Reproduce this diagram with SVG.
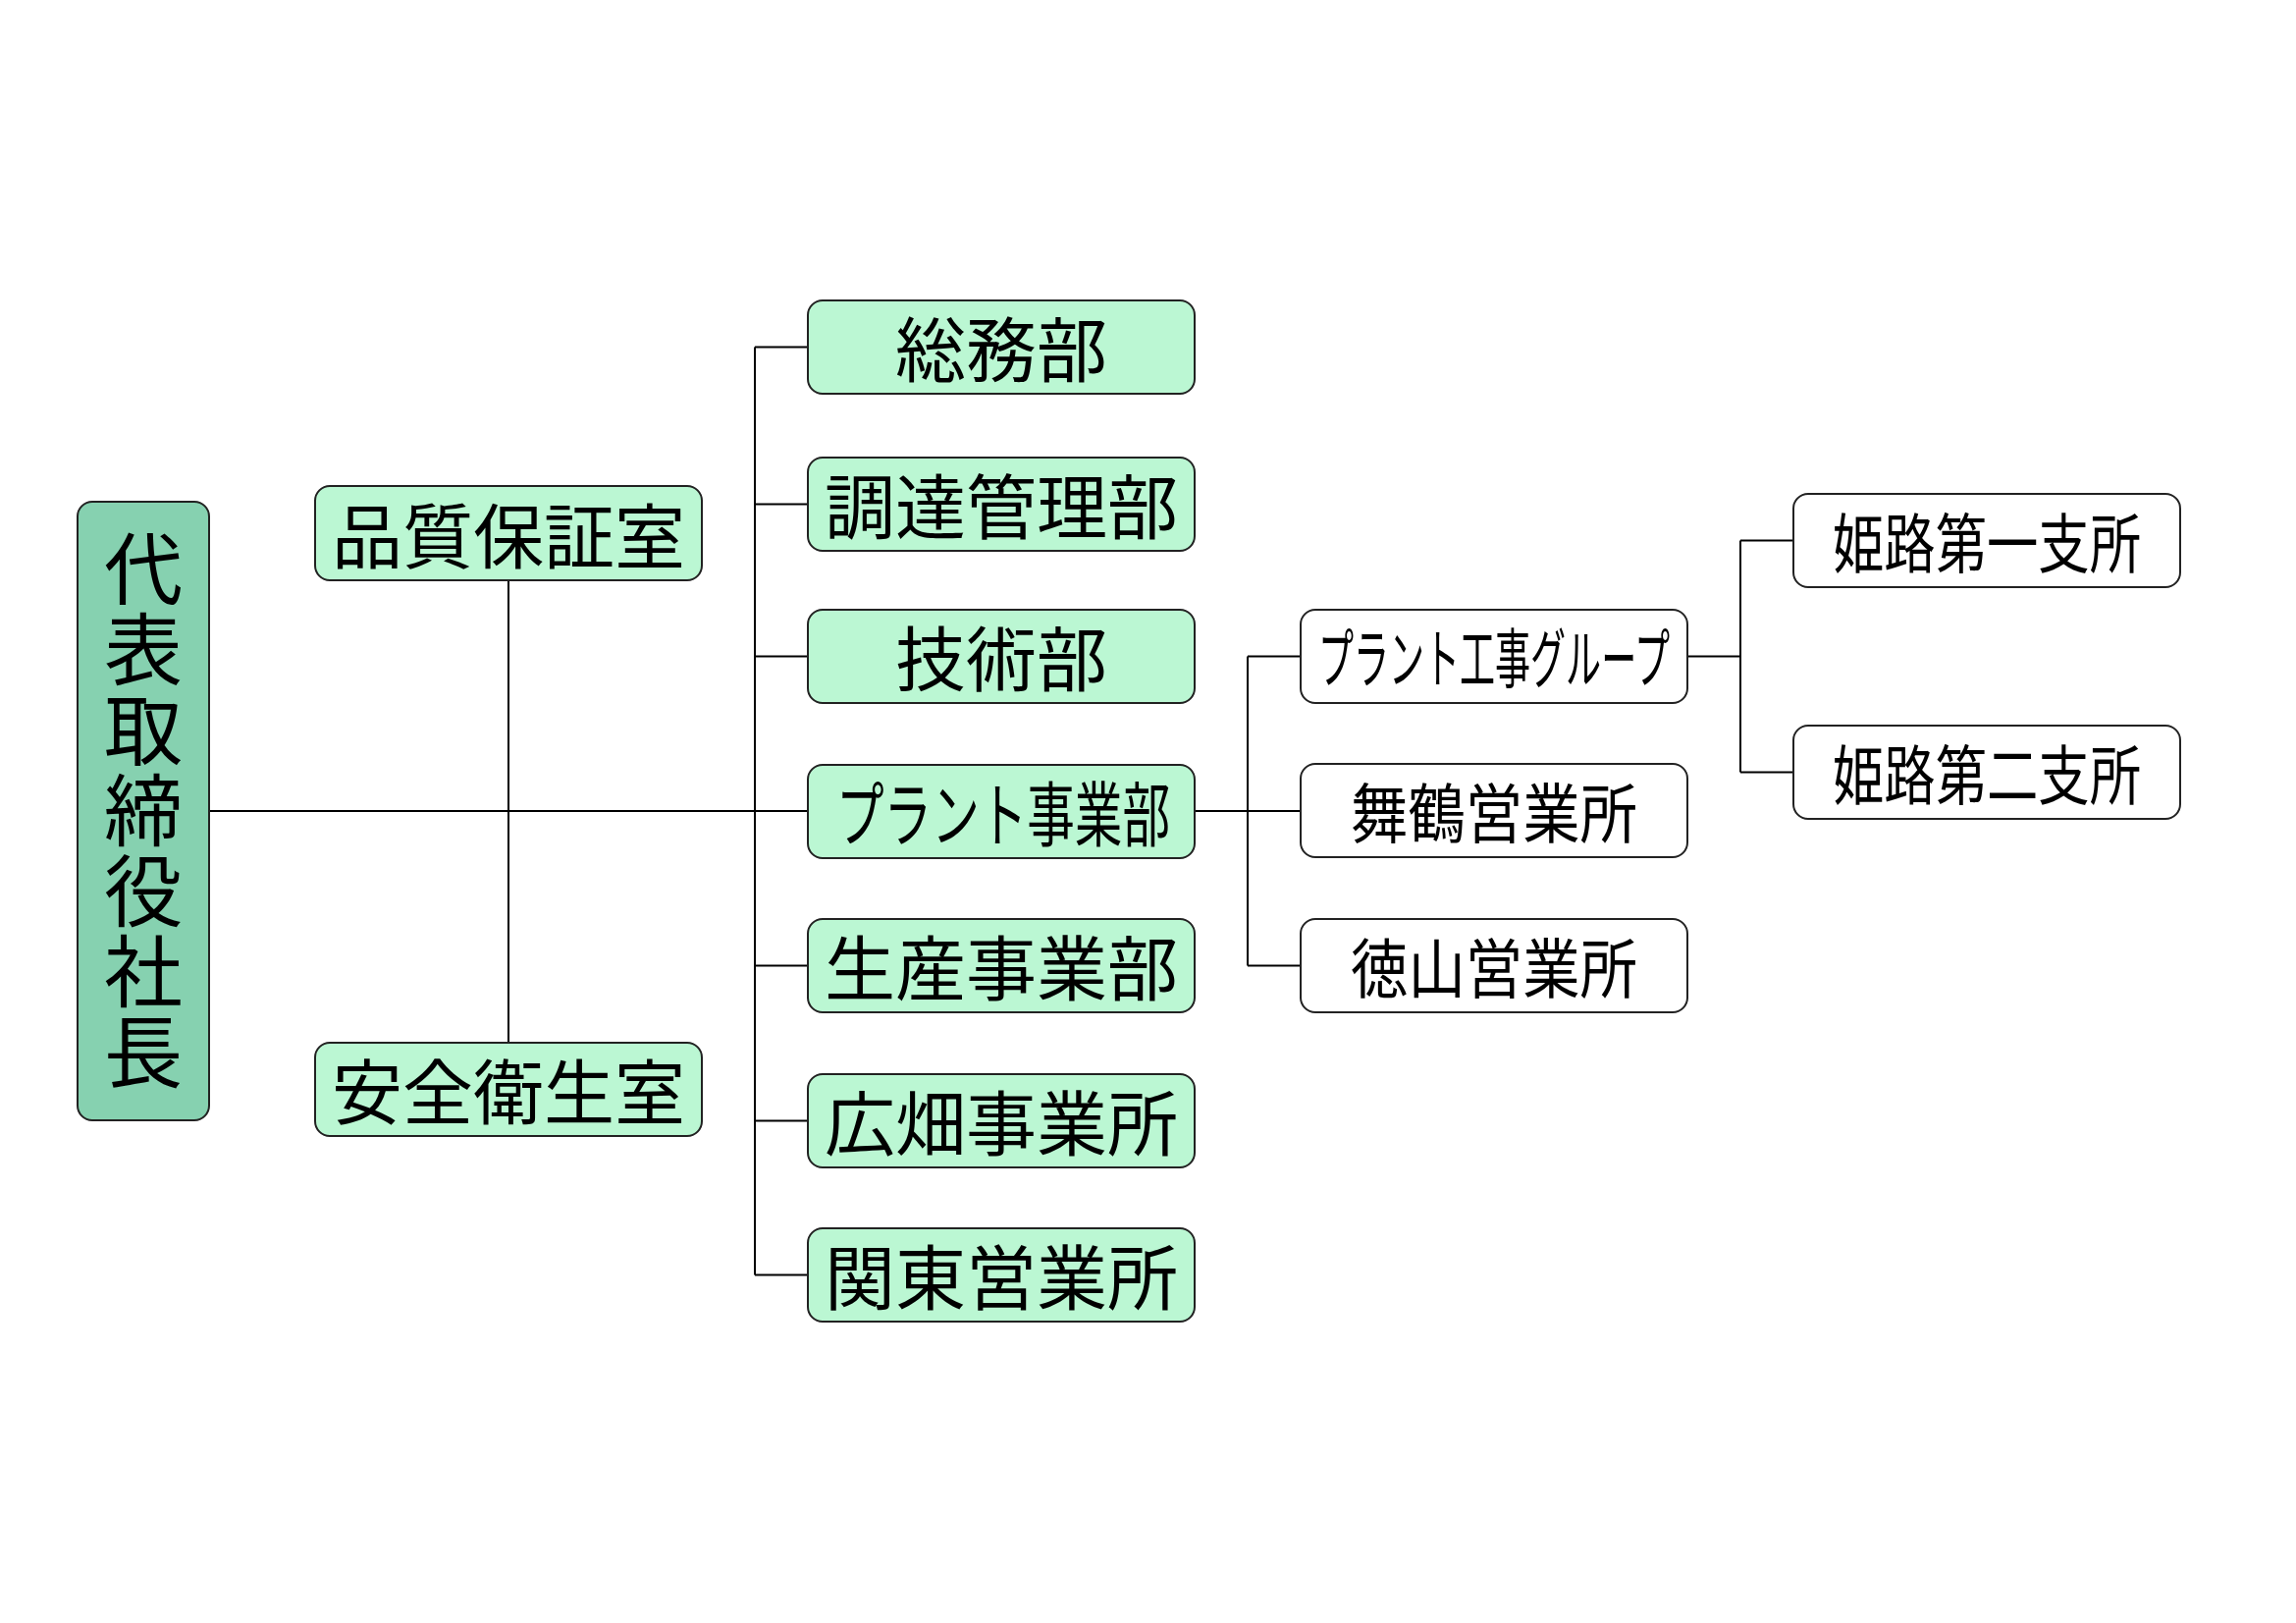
<svg xmlns="http://www.w3.org/2000/svg" width="2339" height="1653" viewBox="0 0 2339 1653">
<style>
.box{stroke:#222;stroke-width:2}
.g{fill:#BBF7D3}
.p{fill:#86D1B0}
.w{fill:#FFFFFF}
.t{font-family:"Noto Sans CJK JP","Noto Sans CJK SC",sans-serif;font-size:72px;fill:#000;text-anchor:middle;dominant-baseline:central}
.s{font-size:66px}
.v{font-size:80px;writing-mode:vertical-rl;letter-spacing:2px}
.c{fill:none;stroke:#000;stroke-width:2}
</style>
<rect width="2339" height="1653" fill="#FFFFFF"/>
<g id="connectors" class="c">
<path d="M213 826H823"/>
<path d="M518 591V1062"/>
<path d="M769 353.5V1298.5M769 353.5H823M769 513.5H823M769 668.5H823M769 983.5H823M769 1141.5H823M769 1298.5H823"/>
<path d="M1217 826H1325"/>
<path d="M1271 668.5V983.5M1271 668.5H1325M1271 983.5H1325"/>
<path d="M1719 668.5H1773M1773 550.5V786.5M1773 550.5H1827M1773 786.5H1827"/>
</g>
<g id="n-president"><rect class="box p" x="79" y="511" width="134" height="630" rx="15"/>
<text class="t v" x="146" y="826">代表取締役社長</text></g>
<g id="n-qa"><rect class="box g" x="321" y="495" width="394" height="96" rx="15"/><text class="t" x="518" y="541">品質保証室</text></g>
<g id="n-safety"><rect class="box g" x="321" y="1062" width="394" height="95" rx="15"/><text class="t" x="518" y="1107">安全衛生室</text></g>
<g id="n-soumu"><rect class="box g" x="823" y="306" width="394" height="95" rx="15"/><text class="t" x="1020" y="351">総務部</text></g>
<g id="n-chotatsu"><rect class="box g" x="823" y="466" width="394" height="95" rx="15"/><text class="t" x="1020" y="511">調達管理部</text></g>
<g id="n-gijutsu"><rect class="box g" x="823" y="621" width="394" height="95" rx="15"/><text class="t" x="1020" y="666">技術部</text></g>
<g id="n-plant"><rect class="box g" x="823" y="779" width="394" height="95" rx="15"/><text class="t" x="1022" y="824" textLength="340" lengthAdjust="spacingAndGlyphs">プラント事業部</text></g>
<g id="n-seisan"><rect class="box g" x="823" y="936" width="394" height="95" rx="15"/><text class="t" x="1020" y="981">生産事業部</text></g>
<g id="n-hirohata"><rect class="box g" x="823" y="1094" width="394" height="95" rx="15"/><text class="t" x="1020" y="1139">広畑事業所</text></g>
<g id="n-kanto"><rect class="box g" x="823" y="1251" width="394" height="95" rx="15"/><text class="t" x="1020" y="1296">関東営業所</text></g>
<g id="n-plantkoji"><rect class="box w" x="1325" y="621" width="394" height="95" rx="15"/><text class="t s" x="1522" y="666" textLength="358" lengthAdjust="spacingAndGlyphs">プラント工事グループ</text></g>
<g id="n-maizuru"><rect class="box w" x="1325" y="778" width="394" height="95" rx="15"/><text class="t s" x="1522" y="824" textLength="292" lengthAdjust="spacingAndGlyphs">舞鶴営業所</text></g>
<g id="n-tokuyama"><rect class="box w" x="1325" y="936" width="394" height="95" rx="15"/><text class="t s" x="1522" y="982" textLength="292" lengthAdjust="spacingAndGlyphs">徳山営業所</text></g>
<g id="n-himeji1"><rect class="box w" x="1827" y="503" width="394" height="95" rx="15"/><text class="t s" x="2024" y="549" textLength="314" lengthAdjust="spacingAndGlyphs">姫路第一支所</text></g>
<g id="n-himeji2"><rect class="box w" x="1827" y="739" width="394" height="95" rx="15"/><text class="t s" x="2024" y="785" textLength="314" lengthAdjust="spacingAndGlyphs">姫路第二支所</text></g>
</svg>
